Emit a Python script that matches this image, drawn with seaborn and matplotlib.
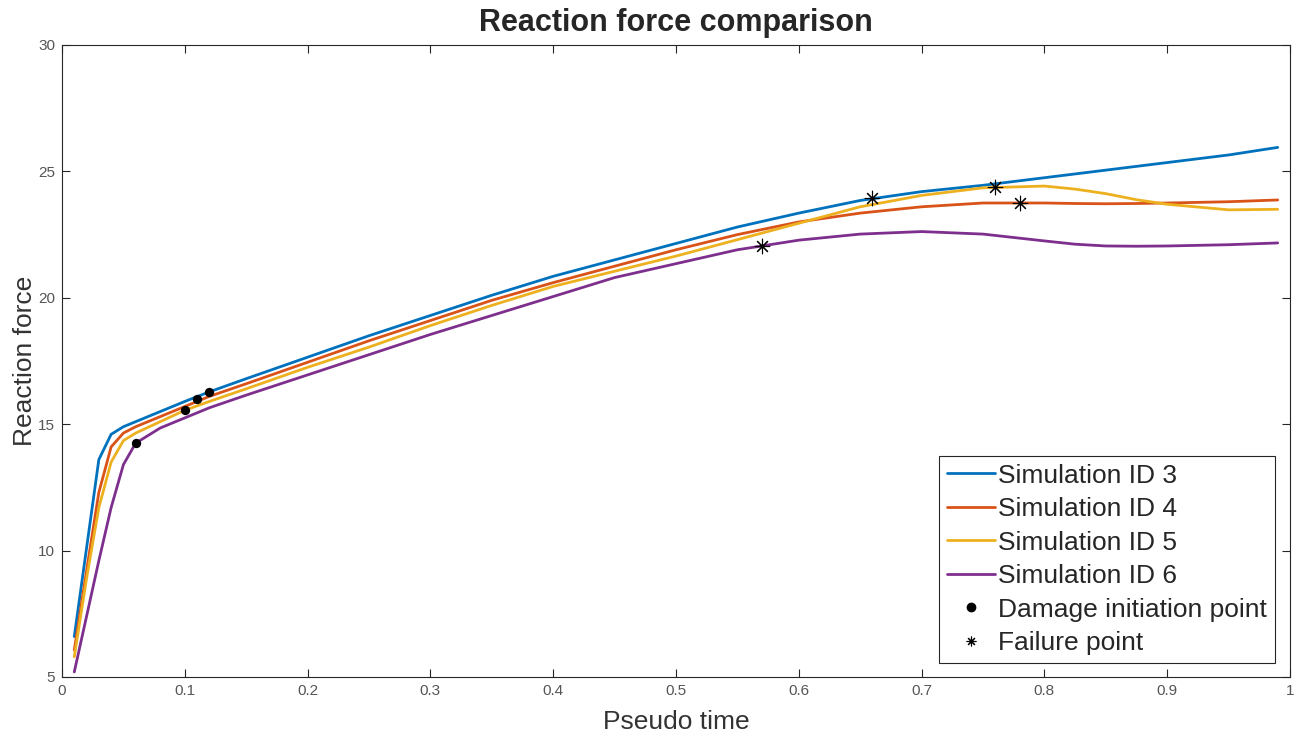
import numpy as np
import pandas as pd
import matplotlib
matplotlib.use("Agg")
import matplotlib.pyplot as plt
from matplotlib.lines import Line2D
from matplotlib.ticker import FixedLocator, FuncFormatter
import seaborn as sns

# ---- data ----
x_time = [0.01, 0.02, 0.03, 0.04, 0.05, 0.06, 0.08, 0.10, 0.12, 0.15, 0.20, 0.25,
          0.30, 0.35, 0.40, 0.45, 0.50, 0.55, 0.60, 0.65, 0.70, 0.75, 0.80, 0.825,
          0.85, 0.875, 0.90, 0.95, 0.99]
sim3 = [6.6, 10.1, 13.6, 14.6, 14.9, 15.1, 15.5, 15.9, 16.28, 16.8, 17.65, 18.5,
        19.3, 20.1, 20.85, 21.5, 22.15, 22.8, 23.35, 23.85, 24.2, 24.45, 24.75, 24.9,
        25.05, 25.2, 25.35, 25.65, 25.95]
sim4 = [6.07, 9.2, 12.3, 14.1, 14.65, 14.9, 15.3, 15.7, 16.1, 16.6, 17.45, 18.3,
        19.1, 19.9, 20.6, 21.25, 21.9, 22.5, 23.0, 23.35, 23.6, 23.75, 23.75, 23.73,
        23.72, 23.73, 23.75, 23.8, 23.87]
sim5 = [5.8, 8.9, 11.7, 13.5, 14.35, 14.65, 15.1, 15.55, 15.9, 16.4, 17.25, 18.05,
        18.9, 19.7, 20.45, 21.05, 21.65, 22.3, 22.95, 23.6, 24.05, 24.35, 24.42, 24.3,
        24.12, 23.88, 23.7, 23.48, 23.5]
sim6 = [5.2, 7.4, 9.6, 11.7, 13.4, 14.25, 14.85, 15.25, 15.65, 16.15, 16.95, 17.75,
        18.55, 19.3, 20.05, 20.8, 21.35, 21.9, 22.28, 22.52, 22.62, 22.52, 22.25, 22.12,
        22.05, 22.04, 22.05, 22.1, 22.17]
series_names = ["Simulation ID 3", "Simulation ID 4", "Simulation ID 5", "Simulation ID 6"]

damage_x = [0.12, 0.11, 0.10, 0.06]
damage_y = [16.28, 15.98, 15.56, 14.25]
failure_x = [0.66, 0.78, 0.76, 0.57]
failure_y = [23.95, 23.75, 24.4, 22.05]

x_ticks = [0, 0.1, 0.2, 0.3, 0.4, 0.5, 0.6, 0.7, 0.8, 0.9, 1]
y_ticks = [5, 10, 15, 20, 25, 30]

colors = ["#0072BD", "#D95319", "#EDB120", "#7E2F8E"]

# ---- plot ----
sns.set_style("white")
plt.rcParams['font.family'] = ['Liberation Sans', 'DejaVu Sans']

df = pd.concat([
    pd.DataFrame({"t": x_time, "f": vals, "sim": name})
    for name, vals in zip(series_names, [sim3, sim4, sim5, sim6])
], ignore_index=True)

fig = plt.figure(figsize=(13.03, 7.40), dpi=100)
ax = fig.add_axes([62 / 1303, 63 / 740, 1228 / 1303, 632 / 740])

sns.lineplot(data=df, x="t", y="f", hue="sim", palette=colors, linewidth=2,
             ax=ax, legend=False, sort=False)
sns.scatterplot(x=damage_x, y=damage_y, color="black", s=45, marker="o",
                edgecolor="black", linewidth=0, ax=ax, legend=False, zorder=5)
sns.scatterplot(x=failure_x, y=failure_y, color="black", s=110, marker=(8, 2, 0),
                linewidth=0.8, edgecolor="black", ax=ax, legend=False, zorder=5)

ax.set_xlim(0, 1)
ax.set_ylim(5, 30)
ax.xaxis.set_major_locator(FixedLocator(x_ticks))
ax.yaxis.set_major_locator(FixedLocator(y_ticks))
ax.xaxis.set_major_formatter(FuncFormatter(lambda v, p: f"{v:g}"))
ax.yaxis.set_major_formatter(FuncFormatter(lambda v, p: f"{v:g}"))
ax.tick_params(direction="in", length=6, width=0.8, colors="#262626",
               labelcolor="#555555", labelsize=11, top=True, right=True,
               bottom=True, left=True, pad=5)
for sp in ax.spines.values():
    sp.set_visible(True)
    sp.set_color("#262626")
    sp.set_linewidth(0.8)

ax.set_xlabel("Pseudo time", fontsize=19, color="#333333", labelpad=9)
ax.set_ylabel("Reaction force", fontsize=19, color="#333333", labelpad=1)
ax.set_title("Reaction force comparison", fontsize=22, fontweight="bold", pad=10)

handles = [Line2D([], [], color=c, lw=2) for c in colors]
handles += [Line2D([], [], color="black", marker="o", ls="none", markersize=6),
            Line2D([], [], color="black", marker=(8, 2, 0), ls="none", markersize=7,
                   markeredgewidth=0.8)]
labels = series_names + ["Damage initiation point", "Failure point"]
leg = ax.legend(handles, labels, loc="lower right", bbox_to_anchor=(0.988, 0.022),
                borderaxespad=0, fontsize=19, frameon=True, fancybox=False,
                framealpha=1, edgecolor="#262626", handlelength=1.8,
                handletextpad=0.15, labelspacing=0.36, borderpad=0.3)
leg.get_frame().set_linewidth(0.8)

fig.savefig("out.png", dpi=100)
